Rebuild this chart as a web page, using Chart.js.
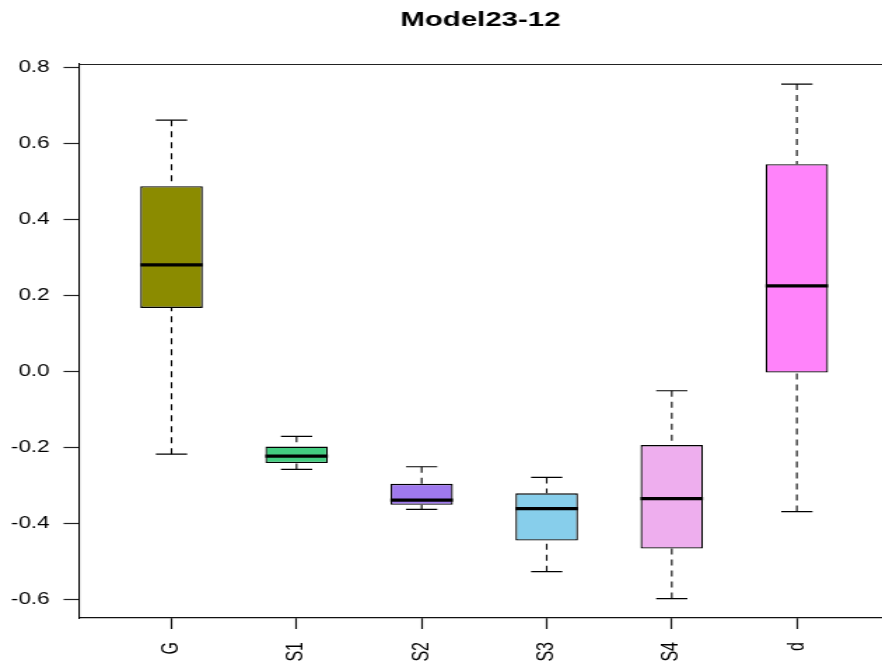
<!DOCTYPE html>
<html>
<head>
<meta charset="utf-8">
<script src="https://cdn.jsdelivr.net/npm/chart.js@4/dist/chart.umd.min.js"></script>
<style>
  html, body { margin: 0; padding: 0; background: #ffffff; }
  #wrap { width: 882px; height: 666px; overflow: hidden; position: relative; }
  #c { display: block; }
</style>
</head>
<body>
<div id="wrap"><canvas id="c" width="630" height="666" style="width:882px;height:666px"></canvas></div>
<script>
// Five-number summaries per group
const categories  = ['G', 'S1', 'S2', 'S3', 'S4', 'd'];
const whiskerLow  = [-0.217, -0.257, -0.362, -0.526, -0.597, -0.368];
const lowerHinge  = [ 0.168, -0.240, -0.350, -0.444, -0.465, -0.002];
const medians     = [ 0.281, -0.222, -0.338, -0.360, -0.334,  0.226];
const upperHinge  = [ 0.488, -0.197, -0.295, -0.320, -0.193,  0.546];
const whiskerHigh = [ 0.662, -0.170, -0.250, -0.278, -0.050,  0.757];
const boxColors   = ['#8B8B00', '#43CD80', '#9F79EE', '#87CEEB', '#EEAEEE', '#FF83FA'];
const yTickValues = [-0.6, -0.4, -0.2, 0.0, 0.2, 0.4, 0.6, 0.8];
const chartTitle  = 'Model23-12';

const positions = categories.map((_, i) => i + 1);

Chart.defaults.font.family = '"Liberation Sans", Arial, sans-serif';
Chart.defaults.color = '#000000';

// Whiskers, staples, medians and the top frame line
const boxplotExtras = {
  id: 'boxplotExtras',
  afterDatasetsDraw(chart) {
    const ctx = chart.ctx;
    const xs = chart.scales.x, ys = chart.scales.y;
    const meta = chart.getDatasetMeta(0);
    const area = chart.chartArea;
    ctx.save();
    positions.forEach((pos, i) => {
      const cx = xs.getPixelForValue(pos);
      const stapleHalf = xs.getPixelForValue(pos + 0.125) - cx;
      const bar = meta.data[i];
      const half = bar.width / 2;
      const yLo = ys.getPixelForValue(whiskerLow[i]);
      const yQ1 = ys.getPixelForValue(lowerHinge[i]);
      const yMed = ys.getPixelForValue(medians[i]);
      const yQ3 = ys.getPixelForValue(upperHinge[i]);
      const yHi = ys.getPixelForValue(whiskerHigh[i]);

      // dashed whiskers, drawn from the whisker end towards the hinge
      ctx.strokeStyle = '#000000';
      ctx.lineWidth = 1.1;
      ctx.setLineDash([6, 5]);
      ctx.beginPath();
      ctx.moveTo(cx, yLo); ctx.lineTo(cx, yQ1);
      ctx.moveTo(cx, yHi); ctx.lineTo(cx, yQ3);
      ctx.stroke();

      // staples
      ctx.setLineDash([]);
      ctx.lineWidth = 1.2;
      ctx.beginPath();
      ctx.moveTo(cx - stapleHalf, yLo); ctx.lineTo(cx + stapleHalf, yLo);
      ctx.moveTo(cx - stapleHalf, yHi); ctx.lineTo(cx + stapleHalf, yHi);
      ctx.stroke();

      // median
      ctx.lineWidth = 3.3;
      ctx.beginPath();
      ctx.moveTo(cx - half, yMed); ctx.lineTo(cx + half, yMed);
      ctx.stroke();
    });

    // top edge of the plot frame
    ctx.strokeStyle = '#222222';
    ctx.lineWidth = 1.2;
    ctx.beginPath();
    ctx.moveTo(area.left, area.top + 0.5);
    ctx.lineTo(chart.width, area.top + 0.5);
    ctx.stroke();
    ctx.restore();
  }
};

new Chart(document.getElementById('c'), {
  type: 'bar',
  data: {
    datasets: [{
      data: positions.map((p, i) => ({ x: p, y: [lowerHinge[i], upperHinge[i]] })),
      backgroundColor: boxColors,
      borderColor: '#000000',
      borderWidth: 1.3,
      borderSkipped: false,
      inflateAmount: 0,
      barPercentage: 0.5,
      categoryPercentage: 1.0
    }]
  },
  options: {
    responsive: false,
    devicePixelRatio: 1,
    animation: false,
    events: [],
    layout: { padding: 0 },
    plugins: {
      legend: { display: false },
      tooltip: { enabled: false },
      title: {
        display: true,
        text: chartTitle,
        fullSize: false,
        color: '#000000',
        font: { size: 21, weight: 'bold', lineHeight: 1.2 },
        padding: { top: 8, bottom: 30.8 }
      }
    },
    scales: {
      x: {
        type: 'linear',
        min: 0.26,
        max: 6.681,
        offset: false,
        afterBuildTicks(scale) { scale.ticks = positions.map(v => ({ value: v })); },
        afterFit(scale) { scale.height = 48; },
        ticks: {
          callback: (v) => categories[v - 1],
          minRotation: 90,
          maxRotation: 90,
          autoSkip: false,
          padding: 13,
          color: '#000000',
          font: { size: 16 }
        },
        grid: {
          offset: false,
          drawOnChartArea: false,
          drawTicks: true,
          tickLength: 11,
          tickColor: '#111111',
          tickWidth: 1.2
        },
        border: { display: true, color: '#111111', width: 1.2 }
      },
      y: {
        type: 'linear',
        min: -0.648,
        max: 0.8097,
        afterBuildTicks(scale) { scale.ticks = yTickValues.map(v => ({ value: v })); },
        afterFit(scale) { scale.width = 56.4; },
        ticks: {
          callback: (v) => Number(v).toFixed(1),
          padding: 10,
          color: '#000000',
          font: { size: 16 }
        },
        grid: {
          drawOnChartArea: false,
          drawTicks: true,
          tickLength: 11,
          tickColor: '#222222',
          tickWidth: 1.2
        },
        border: { display: true, color: '#000000', width: 1.1 }
      }
    }
  },
  plugins: [boxplotExtras]
});
</script>
</body>
</html>
